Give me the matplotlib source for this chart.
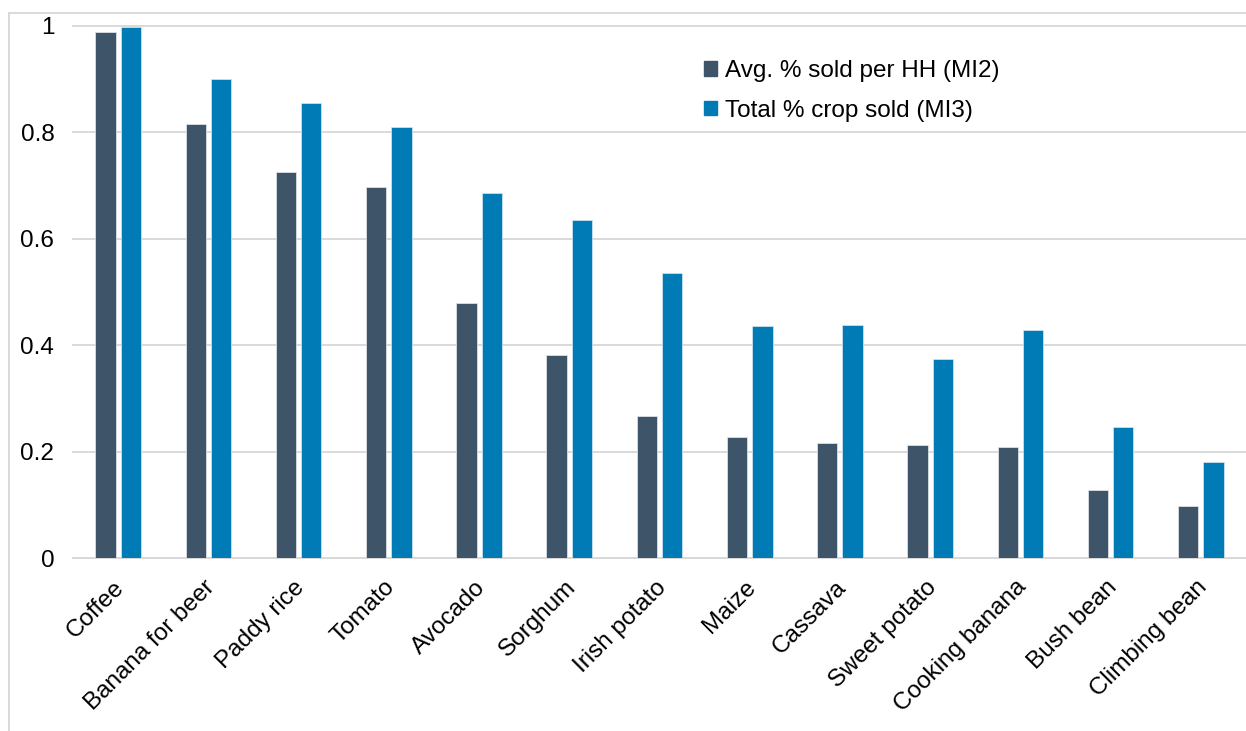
import numpy as np
import matplotlib
matplotlib.use('Agg')
import matplotlib.pyplot as plt
import matplotlib.transforms as mtransforms
from matplotlib.lines import Line2D
from matplotlib.patches import Patch

plt.rcParams['font.family'] = ['Liberation Sans', 'DejaVu Sans']

# Share of production sold, by crop
crops = ['Coffee', 'Banana for beer', 'Paddy rice', 'Tomato', 'Avocado', 'Sorghum',
         'Irish potato', 'Maize', 'Cassava', 'Sweet potato', 'Cooking banana',
         'Bush bean', 'Climbing bean']
avg_sold_hh = [0.989, 0.815, 0.725, 0.698, 0.480, 0.381, 0.267, 0.228, 0.217,
               0.213, 0.209, 0.128, 0.098]
total_sold = [0.998, 0.900, 0.854, 0.809, 0.685, 0.635, 0.536, 0.436, 0.438,
              0.374, 0.429, 0.246, 0.181]
yticks = [0, 0.2, 0.4, 0.6, 0.8, 1]
ytick_labels = ['0', '0.2', '0.4', '0.6', '0.8', '1']
series_names = ['Avg. % sold per HH (MI2)', 'Total % crop sold (MI3)']

dark = '#3e5468'
blue = '#007bb5'
grid = '#d9d9d9'
fs = 17.5
W, H = 1246, 731

fig = plt.figure(figsize=(W / 100, H / 100), dpi=100)
ax = fig.add_axes([73 / W, 1 - 558.3 / H, (W - 73) / W, (558.3 - 25.7) / H])

x = np.arange(len(crops))
w = 0.225
ax.bar(x - 0.14, avg_sold_hh, w, color=dark, edgecolor='#e6ebef', linewidth=0.5, zorder=3)
ax.bar(x + 0.14, total_sold, w, color=blue, edgecolor='#d8e8f2', linewidth=0.5, zorder=3)

ax.set_xlim(-0.5, len(crops) - 0.5)
ax.set_ylim(0, 1)
ax.set_yticks(yticks)
ax.set_yticklabels(ytick_labels, fontsize=fs)
ax.yaxis.grid(True, color=grid, linewidth=1.4, zorder=0)
for gl in ax.get_ygridlines():
    gl.set_clip_on(False)
ax.tick_params(axis='y', length=0, pad=13.5)

ax.set_xticks(x)
ax.set_xticklabels(crops, fontsize=fs, rotation=45, ha='right', va='center',
                   rotation_mode='anchor')
ax.tick_params(axis='x', length=0, pad=18.5)
shift = mtransforms.ScaledTranslation(3 / 100, 0, fig.dpi_scale_trans)
for lab in ax.get_xticklabels():
    lab.set_transform(lab.get_transform() + shift)

for side in ['top', 'right', 'left']:
    ax.spines[side].set_visible(False)
ax.spines['bottom'].set_color(grid)
ax.spines['bottom'].set_linewidth(1.4)

# outer chart border (left and top edges)
fig.add_artist(Line2D([9 / W, 9 / W], [0, 1 - 12.5 / H], color=grid, linewidth=1.4))
fig.add_artist(Line2D([9 / W, 1], [1 - 12.5 / H, 1 - 12.5 / H], color=grid, linewidth=1.4))

handles = [Patch(color=dark), Patch(color=blue)]
fig.legend(handles, series_names, loc='upper left', bbox_to_anchor=(704 / W, 1 - 60 / H),
           frameon=False, fontsize=fs, handlelength=0.55, handleheight=0.55,
           handletextpad=0.3, labelspacing=0.72, borderpad=0, borderaxespad=0)

fig.savefig('out.png', dpi=100)
